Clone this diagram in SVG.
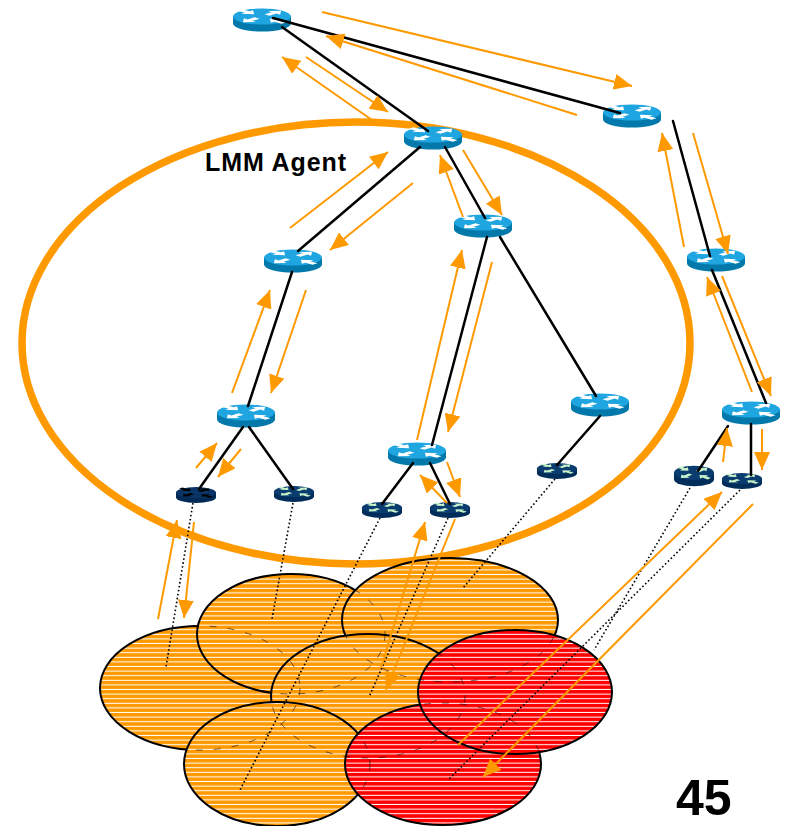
<svg xmlns="http://www.w3.org/2000/svg" xmlns:xlink="http://www.w3.org/1999/xlink" width="791" height="826" viewBox="0 0 791 826">
  <style>
    .lk{stroke:#000;stroke-width:2.5;stroke-linecap:round;fill:none}
    .dt{stroke:#000;stroke-width:1.6;stroke-dasharray:1.6 2.4;fill:none}
    .ar{stroke:#FF9900;stroke-width:2;fill:none;marker-end:url(#ah)}
    .cell{stroke:#000;stroke-width:2}
    .edge{fill:none;stroke:#000;stroke-width:1;stroke-dasharray:7 11;stroke-opacity:0.55}
    .or{fill:url(#stripeO)}
    .rd{fill:url(#stripeR)}
    .lbl{font-family:"Liberation Sans",Arial,sans-serif;font-weight:bold;fill:#000}
  </style>
  <defs>
    <marker id="ah" markerUnits="userSpaceOnUse" markerWidth="18" markerHeight="16" refX="18" refY="8" orient="auto">
      <path d="M0,0 L18,8 L0,16 Z" fill="#FF9900"/>
    </marker>
    <!-- striped fills for coverage cells -->
    <pattern id="stripeO" patternUnits="userSpaceOnUse" width="10" height="4.6">
      <rect width="10" height="4.6" fill="#FF9900"/>
      <rect y="3.6" width="10" height="1" fill="#fff"/>
    </pattern>
    <pattern id="stripeR" patternUnits="userSpaceOnUse" width="10" height="4.6">
      <rect width="10" height="4.6" fill="#FF0000"/>
      <rect y="3.6" width="10" height="1" fill="#fff"/>
    </pattern>
    <!-- router top glyph: four arrows in an X -->
    <path id="aw" d="M0,-3.5 L10,-3.5 L10,-8.5 L20,0 L10,8.5 L10,3.5 L0,3.5 Z"/>
    <g id="xw">
      <use href="#aw" transform="translate(-22,-22) rotate(45)"/>
      <use href="#aw" transform="translate(22,22) rotate(225)"/>
      <use href="#aw" transform="translate(5,-5) rotate(-45)"/>
      <use href="#aw" transform="translate(-5,5) rotate(135)"/>
    </g>
    <!-- core router -->
    <g id="rb">
      <path d="M-29,-3.5 V3.5 A29,8 0 0 0 29,3.5 V-3.5 Z" fill="#0379AB"/>
      <ellipse cy="-3.5" rx="29" ry="8" fill="#1FA5DF"/>
      <use href="#xw" fill="#fff" transform="translate(0,-3.5) scale(1,0.3)"/>
    </g>
    <!-- access router -->
    <g id="rs">
      <g transform="scale(0.69)">
        <path d="M-29,-3.5 V3.5 A29,8 0 0 0 29,3.5 V-3.5 Z" fill="#002D5A"/>
        <ellipse cy="-3.5" rx="29" ry="8" fill="#0B3C70"/>
        <use href="#xw" fill="#C9F3C9" transform="translate(0,-3.5) scale(1,0.3)"/>
      </g>
    </g>
    <g id="rsk">
      <g transform="scale(0.69)">
        <path d="M-29,-3.5 V3.5 A29,8 0 0 0 29,3.5 V-3.5 Z" fill="#002A55"/>
        <ellipse cy="-3.5" rx="29" ry="8" fill="#0A3566"/>
        <use href="#xw" fill="#000" transform="translate(0,-3.5) scale(1,0.3)"/>
      </g>
    </g>
  </defs>

  <rect width="791" height="826" fill="#fff"/>

  <!-- LMM domain boundary -->
  <g id="lmm-domain">
    <ellipse cx="356" cy="343" rx="334" ry="221" fill="none" stroke="#FF9900" stroke-width="7.5"/>
  </g>

  <!-- coverage cells -->
  <g id="cells">
    <g id="cell1"><ellipse class="cell or" cx="200" cy="688" rx="100" ry="62"/></g>
    <g id="cell2"><ellipse class="cell or" cx="291" cy="634" rx="94" ry="60"/></g>
    <g id="cell3"><ellipse class="cell or" cx="450" cy="620" rx="108" ry="62"/></g>
    <g id="cell4"><ellipse class="cell or" cx="368" cy="696" rx="97" ry="62"/></g>
    <g id="cell5"><ellipse class="cell or" cx="277" cy="764" rx="93" ry="62"/></g>
    <g id="cell7"><ellipse class="cell rd" cx="443" cy="764" rx="98" ry="61"/></g>
    <g id="cell6"><ellipse class="cell rd" cx="515" cy="692" rx="97" ry="62"/></g>
  </g>
  <!-- overlapped cell borders, seen through the stripes -->
  <g id="cell-edges">
    <ellipse class="edge" cx="200" cy="688" rx="100" ry="62"/>
    <ellipse class="edge" cx="291" cy="634" rx="94" ry="60"/>
    <ellipse class="edge" cx="450" cy="620" rx="108" ry="62"/>
    <ellipse class="edge" cx="368" cy="696" rx="97" ry="62"/>
    <ellipse class="edge" cx="277" cy="764" rx="93" ry="62"/>
    <ellipse class="edge" cx="443" cy="764" rx="98" ry="61"/>
  </g>

  <!-- routers -->
  <g id="r1" transform="translate(262,20)"><use href="#rb"/></g>
  <g id="r2" transform="translate(433,138)"><use href="#rb"/></g>
  <g id="r3" transform="translate(483,226)"><use href="#rb"/></g>
  <g id="r4" transform="translate(632,116)"><use href="#rb"/></g>
  <g id="r5" transform="translate(716,260)"><use href="#rb"/></g>
  <g id="r6" transform="translate(293,261)"><use href="#rb"/></g>
  <g id="r7" transform="translate(246,416)"><use href="#rb"/></g>
  <g id="r8" transform="translate(417,454)"><use href="#rb"/></g>
  <g id="r9" transform="translate(600,405)"><use href="#rb"/></g>
  <g id="r10" transform="translate(751,413)"><use href="#rb"/></g>

  <g id="ar1" transform="translate(196,495)"><use href="#rsk"/></g>
  <g id="ar2" transform="translate(294,494)"><use href="#rs"/></g>
  <g id="ar3" transform="translate(382,510)"><use href="#rs"/></g>
  <g id="ar4" transform="translate(450,510)"><use href="#rs"/></g>
  <g id="ar5" transform="translate(557,471)"><use href="#rs"/></g>
  <g id="ar6" transform="translate(694,476) scale(1,1.3)"><use href="#rs"/></g>
  <g id="ar7" transform="translate(742,481)"><use href="#rs"/></g>

  <g id="connectors">
    <!-- wired links -->
    <g id="links">
      <line class="lk" x1="273" y1="18" x2="620" y2="113"/>
      <line class="lk" x1="282" y1="27" x2="428" y2="131"/>
      <line class="lk" x1="420" y1="147" x2="298" y2="251"/>
      <line class="lk" x1="445" y1="147" x2="485" y2="218"/>
      <line class="lk" x1="487" y1="237" x2="432" y2="445"/>
      <line class="lk" x1="500" y1="237" x2="596" y2="396"/>
      <line class="lk" x1="292" y1="272" x2="248" y2="406"/>
      <line class="lk" x1="243" y1="427" x2="199" y2="489"/>
      <line class="lk" x1="249" y1="427" x2="293" y2="489"/>
      <line class="lk" x1="413" y1="463" x2="382" y2="504"/>
      <line class="lk" x1="430" y1="463" x2="450" y2="504"/>
      <line class="lk" x1="600" y1="416" x2="557" y2="465"/>
      <line class="lk" x1="673" y1="121" x2="710" y2="256"/>
      <line class="lk" x1="712" y1="270" x2="766" y2="403"/>
      <line class="lk" x1="728" y1="426" x2="698" y2="471"/>
      <line class="lk" x1="751" y1="424" x2="751" y2="475"/>
    </g>
    <!-- radio attachments -->
    <g id="radio">
      <line class="dt" x1="193" y1="503" x2="166" y2="667"/>
      <line class="dt" x1="293" y1="503" x2="272" y2="619"/>
      <line class="dt" x1="380" y1="518" x2="240" y2="790"/>
      <line class="dt" x1="448" y1="518" x2="369" y2="697"/>
      <line class="dt" x1="555" y1="479" x2="463" y2="588"/>
      <line class="dt" x1="690" y1="488" x2="594" y2="650"/>
      <line class="dt" x1="740" y1="490" x2="448" y2="780"/>
    </g>
    <!-- signalling messages -->
    <g id="messages">
      <line class="ar" x1="322" y1="12" x2="632" y2="86"/>
      <line class="ar" x1="577" y1="115" x2="326" y2="36"/>
      <line class="ar" x1="372" y1="120" x2="282" y2="57"/>
      <line class="ar" x1="306" y1="57" x2="388" y2="112"/>
      <line class="ar" x1="290" y1="228" x2="388" y2="152"/>
      <line class="ar" x1="413" y1="183" x2="330" y2="250"/>
      <line class="ar" x1="463" y1="217" x2="440" y2="155"/>
      <line class="ar" x1="463" y1="150" x2="502" y2="215"/>
      <line class="ar" x1="232" y1="393" x2="270" y2="290"/>
      <line class="ar" x1="306" y1="290" x2="271" y2="393"/>
      <line class="ar" x1="417" y1="440" x2="462" y2="250"/>
      <line class="ar" x1="492" y1="262" x2="448" y2="432"/>
      <line class="ar" x1="196" y1="468" x2="217" y2="443"/>
      <line class="ar" x1="241" y1="449" x2="218" y2="477"/>
      <line class="ar" x1="158" y1="619" x2="177" y2="520"/>
      <line class="ar" x1="194" y1="522" x2="184" y2="618"/>
      <line class="ar" x1="447" y1="503" x2="420" y2="475"/>
      <line class="ar" x1="447" y1="462" x2="460" y2="497"/>
      <line class="ar" x1="381" y1="668" x2="425" y2="522"/>
      <line class="ar" x1="455" y1="519" x2="386" y2="690"/>
      <line class="ar" x1="684" y1="247" x2="662" y2="133"/>
      <line class="ar" x1="693" y1="133" x2="728" y2="254"/>
      <line class="ar" x1="752" y1="392" x2="707" y2="277"/>
      <line class="ar" x1="722" y1="276" x2="771" y2="396"/>
      <line class="ar" x1="723" y1="462" x2="727" y2="428"/>
      <line class="ar" x1="762" y1="429" x2="762" y2="470"/>
      <line class="ar" x1="458" y1="745" x2="722" y2="492"/>
      <line class="ar" x1="753" y1="504" x2="483" y2="777"/>
    </g>
  </g>

  <text class="lbl" x="676" y="815" font-size="50">45</text>
  <text class="lbl" x="205" y="171" font-size="25" textLength="141">LMM Agent</text>
</svg>
